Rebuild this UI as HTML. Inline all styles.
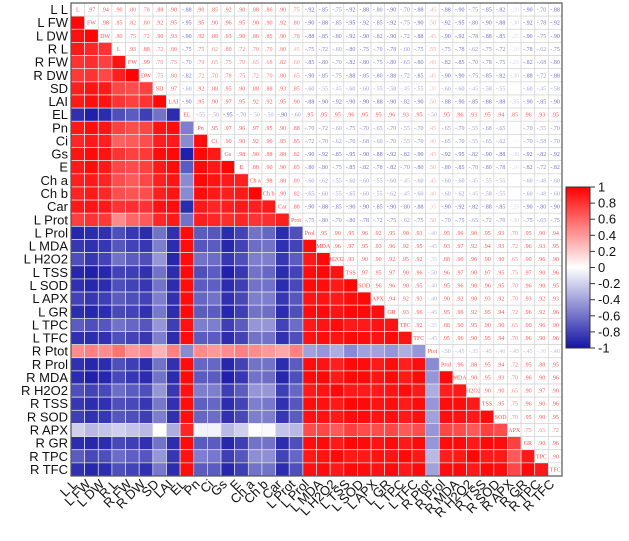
<!DOCTYPE html>
<html><head><meta charset="utf-8">
<style>
html,body{margin:0;padding:0;background:#fff;}
svg{display:block;font-family:"Liberation Sans",Arial,sans-serif;}
</style></head>
<body>
<svg id="chart" width="629" height="541" viewBox="0 0 629 541" xmlns="http://www.w3.org/2000/svg">
<g id="cells"></g>
<g id="rowlabels"></g>
<g id="collabels"></g>
<g id="legend"></g>
</svg>
<script>
const labels = ["L L","L FW","L DW","R L","R FW","R DW","SD","LAI","EL","Pn","Ci","Gs","E","Ch a","Ch b","Car","L Prot","L Prol","L MDA","L H2O2","L TSS","L SOD","L APX","L GR","L TPC","L TFC","R Ptot","R Prol","R MDA","R H2O2","R TSS","R SOD","R APX","R GR","R TPC","R TFC"];
const rows = [
[],
[.97],
[.94,.98],
[.9,.85,.8],
[.8,.82,.75,.93],
[.78,.8,.72,.88,.99],
[.88,.92,.9,.72,.7,.75],
[.9,.95,.93,.8,.75,.8,.97],
[-.88,-.95,-.9,-.75,-.7,-.82,-.6,-.9],
[.9,.95,.92,.75,.7,.72,.92,.95,-.55],
[.85,.9,.88,.62,.65,.7,.88,.9,-.5,.95],
[.92,.96,.93,.8,.75,.78,.95,.97,-.95,.97,.9],
[.9,.95,.9,.72,.7,.75,.9,.95,-.7,.96,.9,.98],
[.88,.9,.86,.7,.65,.72,.88,.92,-.5,.97,.92,.9,.88],
[.86,.9,.85,.7,.68,.7,.88,.92,-.5,.95,.9,.88,.9,.98],
[.9,.92,.9,.8,.82,.8,.93,.95,-.9,.9,.85,.88,.9,.88,.9],
[.75,.8,.78,.45,.6,.65,.85,.9,-.6,.88,.85,.82,.85,.8,.82,.88],
[-.92,-.9,-.88,-.75,-.85,-.9,-.6,-.88,.95,-.7,-.72,-.9,-.8,-.6,-.65,-.9,-.75],
[-.85,-.88,-.85,-.72,-.8,-.85,-.55,-.9,.95,-.72,-.7,-.92,-.8,-.62,-.6,-.88,-.8,.95],
[-.75,-.85,-.8,-.6,-.7,-.75,-.45,-.92,.95,-.6,-.62,-.85,-.75,-.55,-.55,-.85,-.7,.9,.96],
[-.92,-.95,-.92,-.8,-.82,-.88,-.6,-.9,.96,-.75,-.7,-.95,-.85,-.6,-.65,-.9,-.8,.95,.97,.93],
[-.88,-.92,-.9,-.75,-.8,-.85,-.6,-.9,.95,-.7,-.68,-.9,-.82,-.6,-.6,-.9,-.78,.96,.95,.9,.97],
[-.8,-.85,-.82,-.7,-.75,-.8,-.55,-.88,.95,-.65,-.6,-.88,-.78,-.55,-.55,-.85,-.72,.92,.93,.9,.95,.96],
[-.9,-.92,-.9,-.78,-.8,-.88,-.58,-.9,.96,-.7,-.7,-.92,-.82,-.6,-.62,-.9,-.75,.95,.96,.92,.97,.96,.94],
[-.7,-.75,-.72,-.6,-.65,-.72,-.45,-.82,.93,-.55,-.55,-.82,-.7,-.45,-.45,-.8,-.62,.9,.92,.95,.9,.9,.92,.93],
[-.88,-.9,-.88,-.75,-.8,-.85,-.55,-.9,.95,-.7,-.7,-.9,-.8,-.6,-.6,-.88,-.75,.93,.95,.92,.96,.95,.93,.96,.92],
[.45,.5,.45,.55,.4,.45,.3,.5,-.5,.45,.4,.45,.5,.45,.4,.35,.5,-.4,-.45,-.35,-.5,-.4,-.4,-.45,-.35,-.45],
[-.88,-.92,-.9,-.75,-.82,-.9,-.6,-.88,.95,-.65,-.65,-.92,-.8,-.6,-.6,-.9,-.7,.95,.93,.88,.96,.95,.9,.95,.88,.95,-.5],
[-.9,-.95,-.92,-.78,-.85,-.9,-.6,-.9,.96,-.7,-.7,-.95,-.85,-.6,-.62,-.92,-.75,.96,.97,.9,.97,.96,.92,.96,.9,.96,-.45,.96],
[-.75,-.8,-.78,-.62,-.7,-.75,-.45,-.85,.93,-.55,-.55,-.82,-.7,-.45,-.45,-.82,-.65,.9,.92,.96,.9,.9,.9,.92,.95,.9,-.35,.88,.9],
[-.85,-.9,-.88,-.75,-.78,-.85,-.58,-.88,.95,-.68,-.65,-.9,-.8,-.55,-.58,-.88,-.72,.95,.94,.9,.97,.96,.93,.95,.9,.95,-.45,.95,.95,.9],
[-.82,-.88,-.85,-.72,-.75,-.82,-.55,-.88,.94,-.65,-.62,-.88,-.78,-.55,-.55,-.85,-.7,.93,.93,.9,.95,.95,.92,.94,.9,.94,-.4,.94,.93,.9,.95],
[-.2,-.3,-.25,-.2,-.25,-.3,0,-.35,.85,-.05,-.05,-.3,-.2,0,-.02,-.25,-.3,.7,.72,.65,.75,.7,.7,.72,.65,.7,-.45,.72,.7,.65,.75,.7],
[-.9,-.92,-.9,-.78,-.82,-.88,-.6,-.9,.96,-.7,-.7,-.92,-.82,-.6,-.6,-.9,-.75,.95,.96,.9,.97,.96,.93,.96,.9,.96,-.45,.95,.96,.9,.96,.95,.75],
[-.7,-.78,-.75,-.62,-.68,-.72,-.45,-.85,.93,-.55,-.58,-.82,-.72,-.48,-.48,-.8,-.65,.9,.93,.96,.9,.9,.92,.92,.96,.9,-.3,.88,.9,.97,.9,.9,.65,.9],
[-.88,-.92,-.9,-.75,-.8,-.88,-.58,-.9,.95,-.7,-.7,-.92,-.82,-.6,-.6,-.9,-.75,.94,.95,.9,.96,.95,.93,.96,.9,.96,-.4,.95,.96,.9,.96,.95,.72,.96,.9]
];
const legendTicks = [1,0.8,0.6,0.4,0.2,0,-0.2,-0.4,-0.6,-0.8,-1];

const NS="http://www.w3.org/2000/svg";
const X0=71, Y0=3, X1=562, Y1=476, N=labels.length;
const cw=(X1-X0)/N, ch=(Y1-Y0)/N;
const xPos=i=>X0+i*cw, yPos=i=>Y0+i*ch;
function val(i,j){ if(i===j) return 1; const r=Math.max(i,j), c=Math.min(i,j); const v=rows[r][c]; return v===undefined?0:v; }
function color(v){
  let r,g,b;
  if(v>=0){ r=255; g=Math.round(255*(1-v)); b=Math.round(255*(1-v)); }
  else { const t=-v; r=Math.round(255+(20-255)*t); g=Math.round(255+(20-255)*t); b=Math.round(255+(165-255)*t); }
  return `rgb(${r},${g},${b})`;
}
function el(tag,attrs,parent){ const e=document.createElementNS(NS,tag); for(const k in attrs) e.setAttribute(k,attrs[k]); parent.appendChild(e); return e; }
const cells=document.getElementById('cells');
el('rect',{x:X0,y:Y0,width:X1-X0,height:Y1-Y0,fill:'#fff'},cells);
function fmt(v){ let s=v.toFixed(2); s=s.replace(/^0\./,'.').replace(/^-0\./,'-.'); return s; }
for(let i=0;i<N;i++){
  for(let j=0;j<N;j++){
    const v=val(i,j);
    if(j<i){
      const r=el('rect',{x:xPos(j),y:yPos(i),width:cw,height:ch,fill:color(v),stroke:'#e6e6e6','stroke-width':0.7},cells);
      
      
    } else {
      el('rect',{x:xPos(j),y:yPos(i),width:cw,height:ch,fill:'#fff',stroke:'#d4d4d4','stroke-width':0.7},cells);
      const t=el('text',{x:xPos(j)+cw/2,y:yPos(i)+ch/2+2,'text-anchor':'middle','font-size':6,fill:color(v*0.7),'font-family':'Liberation Serif,serif'},cells);
      t.textContent = j===i ? labels[i].replace(/^[LR] /,'') : fmt(v);
      
      
    }
  }
}
el('rect',{x:X0,y:Y0,width:X1-X0,height:Y1-Y0,fill:'none',stroke:'#555','stroke-width':1.2},cells);

const rl=document.getElementById('rowlabels');
const cl=document.getElementById('collabels');
for(let i=0;i<N;i++){
  const t=el('text',{x:X0-3,y:yPos(i)+ch/2+4.5,'text-anchor':'end','font-size':13,fill:'#111'},rl);
  t.textContent=labels[i];
  
  
  const cx=xPos(i)+cw/2, cy=Y1+9;
  const c=el('text',{x:cx,y:cy,'text-anchor':'end','font-size':13,fill:'#111',transform:`rotate(-45 ${cx} ${cy})`},cl);
  c.textContent=labels[i];
  
  
}

const lg=document.getElementById('legend');
const LX=566, LW=24, LT=187, LB=348;
const defs=el('defs',{},lg);
const grad=el('linearGradient',{id:'cg',x1:0,y1:0,x2:0,y2:1},defs);
for(let k=0;k<=20;k++){ const v=1-k/10; el('stop',{offset:(k/20),'stop-color':color(v)},grad); }
const ly=v=>LT+(1-v)/2*(LB-LT);
const bar=el('rect',{x:LX,y:LT,width:LW,height:LB-LT,fill:'url(#cg)',stroke:'#333','stroke-width':1},lg);


legendTicks.forEach(v=>{
  const y=ly(v);
  el('line',{x1:LX+LW,x2:LX+LW+5,y1:y,y2:y,stroke:'#333','stroke-width':1},lg);
  const t=el('text',{x:LX+LW+8,y:y+4.5,'font-size':13,fill:'#111'},lg);
  t.textContent=String(v);
  
  
});
</script>
</body></html>
